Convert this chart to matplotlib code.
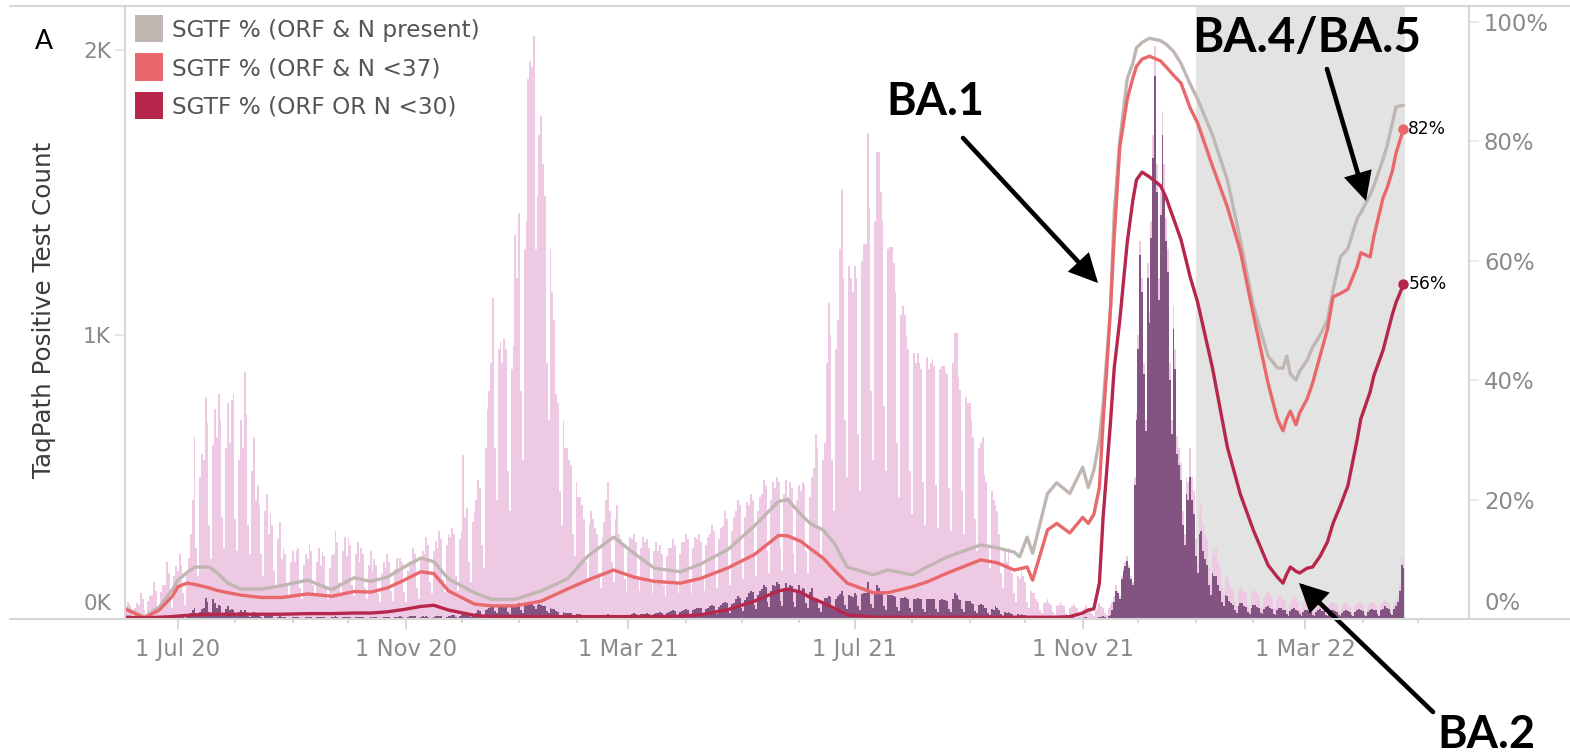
import matplotlib
matplotlib.use("Agg")
import matplotlib.pyplot as plt
import matplotlib.dates as mdates
from matplotlib.patches import Rectangle, FancyArrowPatch
from matplotlib.lines import Line2D
from matplotlib.ticker import FuncFormatter
import pandas as pd

# ---------------- data ----------------
bar_start = "2020-06-03"
# daily TaqPath positive test counts (pink bars)
total_tests = [
    35, 60, 48, 20, 12, 40, 55,
    50, 90, 70, 30, 18, 62, 80,
    85, 130, 100, 45, 25, 95, 118,
    120, 200, 160, 70, 40, 150, 185,
    170, 230, 190, 90, 50, 160, 215,
    300, 420, 640, 250, 150, 500, 580,
    560, 780, 690, 330, 210, 610, 740,
    640, 790, 700, 360, 250, 600, 760,
    620, 770, 790, 350, 240, 560, 700,
    600, 870, 720, 330, 230, 520, 640,
    420, 470, 400, 230, 150, 380, 440,
    300, 370, 330, 170, 110, 280, 340,
    210, 250, 230, 120, 80, 200, 240,
    200, 240, 250, 110, 70, 190, 230,
    210, 265, 240, 120, 80, 200, 250,
    190, 240, 220, 110, 70, 180, 225,
    230, 310, 270, 130, 85, 240, 290,
    220, 285, 260, 120, 80, 230, 270,
    200, 250, 230, 110, 70, 190, 240,
    170, 210, 190, 90, 60, 160, 200,
    180, 230, 200, 100, 65, 175, 215,
    175, 215, 200, 95, 60, 170, 205,
    200, 250, 230, 110, 70, 210, 240,
    230, 290, 260, 130, 90, 240, 275,
    250, 310, 280, 140, 95, 260, 300,
    290, 320, 300, 150, 100, 280, 310,
    577, 360, 390, 200, 130, 340, 380,
    420, 490, 460, 260, 180, 600, 738,
    800, 900, 1128, 600, 420, 950, 975,
    900, 985, 950, 520, 380, 880, 960,
    1350, 1200, 1427, 800, 560, 1300, 1400,
    1900, 1960, 1940, 2050, 1300, 1487, 1700,
    1768, 1600, 1487, 900, 700, 1300, 1150,
    1050, 790, 760, 450, 330, 700, 600,
    600, 560, 540, 300, 220, 480, 430,
    430, 400, 350, 200, 140, 330, 380,
    350, 320, 300, 160, 110, 290, 340,
    420, 480, 380, 200, 130, 350, 400,
    300, 280, 260, 140, 90, 240, 290,
    280, 300, 270, 150, 100, 250, 290,
    270, 280, 250, 130, 90, 240, 270,
    240, 260, 230, 120, 80, 220, 250,
    250, 280, 260, 130, 90, 230, 270,
    270, 300, 280, 140, 90, 250, 290,
    280, 300, 270, 150, 100, 260, 290,
    300, 330, 310, 160, 110, 280, 320,
    327, 380, 350, 180, 120, 310, 360,
    380, 420, 400, 200, 140, 360, 410,
    400, 440, 420, 220, 150, 380, 430,
    440, 490, 470, 240, 160, 420, 480,
    460, 500, 480, 250, 170, 440, 490,
    430, 480, 460, 230, 160, 420, 470,
    450, 480, 470, 240, 160, 430, 500,
    530, 650, 600, 320, 220, 560, 620,
    900, 1110, 1000, 560, 380, 950, 1050,
    1300, 1510, 1200, 700, 500, 1240, 1200,
    1150, 1240, 1200, 650, 450, 1260, 1320,
    1320, 1710, 1450, 800, 560, 1400, 1640,
    1640, 1500, 1400, 750, 520, 1300, 1308,
    1308, 1250, 1150, 620, 430, 1069, 1100,
    1069, 1000, 950, 520, 370, 935, 900,
    935, 900, 880, 480, 330, 920, 880,
    900, 915, 890, 470, 320, 880, 890,
    890, 870, 860, 460, 310, 900, 1005,
    1005, 850, 805, 450, 300, 780, 760,
    760, 700, 640, 350, 240, 600, 620,
    640, 506, 480, 260, 180, 450, 420,
    400, 380, 300, 160, 110, 250, 200,
    250, 180, 160, 90, 60, 150, 140,
    180, 150, 130, 60, 40, 100, 90,
    90, 70, 60, 30, 20, 55, 60,
    70, 55, 50, 25, 15, 45, 50,
    60, 50, 45, 20, 15, 40, 45,
    55, 45, 40, 20, 12, 35, 40,
    50, 40, 35, 18, 12, 30, 40,
    55, 45, 40, 20, 15, 40, 50,
    60, 80, 120, 100, 80, 150, 180,
    200, 220, 190, 150, 130, 500, 725,
    1000, 1330, 1200, 900, 700, 1250, 1080,
    1400, 1700, 2015, 1600, 1200, 1500, 1785,
    1600, 1410, 1300, 900, 700, 1100, 950,
    645, 600, 550, 380, 300, 500, 480,
    600, 500, 450, 280, 200, 385, 400,
    330, 300, 280, 180, 130, 250, 230,
    250, 200, 180, 110, 80, 160, 150,
    130, 110, 100, 60, 45, 95, 110,
    110, 95, 90, 50, 40, 85, 100,
    100, 90, 80, 45, 35, 75, 90,
    100, 85, 75, 40, 30, 70, 85,
    80, 70, 65, 35, 25, 60, 75,
    80, 70, 60, 35, 25, 55, 70,
    70, 60, 55, 30, 20, 50, 65,
    70, 60, 55, 30, 20, 50, 60,
    60, 55, 50, 28, 18, 45, 55,
    60, 50, 45, 25, 18, 45, 55,
    60, 55, 50, 25, 18, 45, 55,
    60, 55, 50, 28, 20, 50, 60,
    70, 60, 55, 30, 22, 55, 65,
    80, 120, 218, 200,
]
# daily SGTF positive counts (purple bars)
sgtf_tests = [
    3, 5, 4, 2, 1, 3, 4,
    4, 5, 4, 2, 1, 3, 5,
    5, 8, 6, 3, 2, 5, 7,
    8, 10, 9, 4, 3, 7, 9,
    10, 15, 12, 6, 4, 10, 14,
    20, 30, 40, 15, 10, 25, 35,
    40, 75, 60, 25, 15, 70, 55,
    40, 50, 45, 20, 12, 35, 45,
    30, 35, 30, 15, 10, 25, 30,
    25, 30, 25, 12, 8, 20, 25,
    15, 18, 15, 8, 5, 12, 15,
    10, 12, 10, 5, 3, 8, 10,
    6, 8, 7, 3, 2, 5, 7,
    6, 7, 8, 3, 2, 5, 7,
    7, 8, 7, 4, 2, 6, 8,
    6, 7, 6, 3, 2, 5, 7,
    7, 9, 8, 4, 3, 7, 8,
    7, 8, 8, 4, 2, 7, 8,
    6, 7, 7, 3, 2, 5, 7,
    5, 6, 6, 3, 2, 5, 6,
    6, 8, 7, 3, 2, 6, 7,
    7, 9, 8, 4, 3, 8, 10,
    9, 10, 9, 5, 3, 8, 10,
    8, 9, 8, 4, 3, 7, 9,
    9, 10, 9, 5, 3, 8, 10,
    12, 15, 14, 7, 5, 12, 14,
    20, 18, 20, 10, 7, 17, 19,
    22, 30, 28, 14, 10, 30, 35,
    40, 45, 50, 28, 20, 45, 48,
    45, 50, 48, 26, 18, 44, 48,
    50, 48, 55, 30, 22, 52, 56,
    56, 58, 60, 45, 35, 50, 52,
    50, 46, 44, 28, 20, 38, 36,
    34, 28, 26, 15, 10, 24, 22,
    22, 20, 20, 11, 8, 18, 16,
    16, 15, 13, 7, 5, 12, 14,
    13, 12, 11, 6, 4, 11, 13,
    15, 18, 14, 8, 5, 13, 15,
    14, 13, 12, 7, 5, 11, 14,
    18, 20, 17, 9, 6, 16, 19,
    19, 20, 18, 10, 7, 17, 20,
    22, 25, 21, 12, 8, 20, 24,
    27, 30, 28, 15, 10, 26, 29,
    32, 35, 33, 18, 12, 30, 34,
    37, 40, 38, 20, 14, 35, 39,
    45, 50, 47, 25, 17, 43, 49,
    55, 60, 57, 30, 20, 52, 58,
    70, 80, 75, 40, 28, 68, 78,
    90, 100, 95, 50, 35, 85, 98,
    105, 120, 112, 60, 42, 100, 118,
    115, 130, 122, 65, 45, 110, 128,
    108, 120, 115, 60, 42, 102, 118,
    98, 110, 105, 55, 38, 95, 108,
    66, 75, 71, 38, 26, 64, 74,
    74, 82, 79, 43, 30, 71, 81,
    88, 98, 82, 49, 34, 84, 82,
    79, 90, 86, 45, 32, 88, 92,
    90, 130, 96, 52, 38, 94, 120,
    110, 92, 88, 46, 33, 84, 86,
    84, 82, 76, 41, 28, 74, 75,
    79, 75, 72, 38, 26, 71, 69,
    74, 71, 69, 36, 25, 72, 69,
    70, 72, 70, 36, 25, 68, 69,
    68, 66, 64, 34, 24, 69, 90,
    85, 69, 66, 34, 24, 63, 62,
    64, 58, 54, 28, 20, 50, 51,
    50, 40, 38, 21, 14, 34, 33,
    44, 40, 32, 17, 12, 26, 22,
    26, 20, 18, 10, 7, 16, 15,
    18, 15, 13, 7, 5, 11, 10,
    9, 8, 7, 4, 3, 6, 7,
    7, 6, 5, 3, 2, 5, 6,
    6, 6, 5, 3, 2, 5, 6,
    6, 5, 5, 3, 2, 4, 6,
    6, 5, 4, 2, 2, 4, 5,
    8, 8, 10, 6, 5, 12, 15,
    30, 60, 100, 90, 70, 140, 170,
    185, 205, 180, 140, 120, 470, 700,
    950, 1280, 1150, 860, 660, 1200, 1040,
    1340, 1620, 1910, 1500, 1120, 1420, 1700,
    1500, 1330, 1220, 840, 650, 1020, 880,
    580, 540, 490, 330, 260, 440, 420,
    500, 420, 370, 220, 160, 300, 310,
    240, 210, 190, 120, 85, 160, 150,
    150, 120, 100, 60, 45, 85, 80,
    65, 55, 50, 30, 22, 45, 55,
    55, 45, 42, 24, 18, 40, 48,
    48, 42, 38, 21, 16, 35, 42,
    46, 40, 35, 19, 14, 33, 40,
    38, 33, 30, 17, 12, 28, 35,
    38, 33, 28, 16, 12, 26, 33,
    33, 28, 26, 14, 10, 24, 30,
    34, 29, 27, 15, 10, 25, 30,
    30, 27, 25, 14, 9, 22, 28,
    32, 27, 24, 13, 10, 24, 30,
    34, 31, 28, 14, 10, 26, 32,
    36, 33, 30, 17, 12, 30, 36,
    45, 40, 36, 20, 15, 36, 44,
    60, 100, 190, 180,
]

line_dates = [
    "2020-06-03", "2020-06-13", "2020-06-21", "2020-06-28", "2020-07-01", "2020-07-06",
    "2020-07-10", "2020-07-18", "2020-07-22", "2020-07-28", "2020-08-04", "2020-08-15",
    "2020-08-26", "2020-09-09", "2020-09-22", "2020-10-04", "2020-10-13", "2020-10-22",
    "2020-10-31", "2020-11-09", "2020-11-16", "2020-11-24", "2020-12-08", "2020-12-17",
    "2020-12-30", "2021-01-13", "2021-01-27", "2021-02-07", "2021-02-21", "2021-03-04",
    "2021-03-15", "2021-03-29", "2021-04-09", "2021-04-24", "2021-05-08", "2021-05-21",
    "2021-05-26", "2021-06-02", "2021-06-07", "2021-06-14", "2021-06-20", "2021-06-27",
    "2021-07-11", "2021-07-19", "2021-08-01", "2021-08-09", "2021-08-20", "2021-09-07",
    "2021-09-16", "2021-09-25", "2021-09-28", "2021-10-02", "2021-10-05", "2021-10-13",
    "2021-10-18", "2021-10-25", "2021-11-01", "2021-11-04", "2021-11-07", "2021-11-10",
    "2021-11-12", "2021-11-14", "2021-11-16", "2021-11-18", "2021-11-21", "2021-11-25",
    "2021-11-28", "2021-11-30", "2021-12-03", "2021-12-07", "2021-12-13", "2021-12-16",
    "2021-12-20", "2021-12-24", "2021-12-29", "2022-01-02", "2022-01-10", "2022-01-18",
    "2022-01-25", "2022-02-01", "2022-02-09", "2022-02-14", "2022-02-17", "2022-02-19",
    "2022-02-21", "2022-02-24", "2022-02-26", "2022-03-02", "2022-03-05", "2022-03-09",
    "2022-03-13", "2022-03-16", "2022-03-20", "2022-03-24", "2022-03-29", "2022-03-31",
    "2022-04-05", "2022-04-07", "2022-04-12", "2022-04-14", "2022-04-17", "2022-04-19",
    "2022-04-23",
]
pct_orf_n_present = [
    1.8, 0.3, 2.0, 4.9, 6.5, 7.8, 8.7, 8.7, 7.8, 6.0, 5.0, 5.0,
    5.6, 6.5, 4.9, 6.9, 6.3, 7.0, 8.7, 10.2, 9.6, 6.7, 4.4, 3.3,
    3.3, 4.7, 6.7, 10.5, 13.7, 11.0, 8.5, 7.9, 9.2, 11.7, 15.6, 19.7,
    20.0, 17.5, 16.0, 14.9, 12.7, 8.7, 7.4, 8.2, 7.4, 8.7, 10.4, 12.4,
    11.9, 11.2, 10.4, 13.7, 11.0, 21.0, 22.8, 21.0, 25.4, 22.0, 24.9, 30.0,
    36.0, 44.0, 52.0, 68.0, 80.0, 90.4, 93.0, 95.6, 96.5, 97.2, 96.8, 96.2,
    95.0, 93.0, 89.5, 87.0, 81.0, 73.5, 63.5, 52.5, 44.0, 42.0, 42.0, 44.0,
    41.0, 40.0, 41.5, 43.3, 45.5, 47.5, 50.0, 55.0, 60.6, 62.0, 67.0, 68.0,
    71.0, 72.5, 77.0, 79.0, 83.0, 85.7, 86.0,
]
pct_orf_n_37 = [
    1.6, 0.2, 1.5, 3.8, 5.4, 6.0, 5.8, 5.2, 4.8, 4.4, 4.0, 3.6,
    3.6, 4.2, 3.8, 4.6, 4.5, 5.2, 6.5, 7.9, 7.6, 4.7, 2.5, 2.2,
    2.2, 3.0, 5.0, 6.5, 8.2, 7.0, 6.3, 6.0, 6.8, 8.6, 10.8, 14.0,
    13.9, 13.0, 11.8, 10.2, 8.2, 6.0, 4.4, 4.4, 5.4, 6.2, 7.7, 9.9,
    9.4, 8.2, 8.4, 8.7, 6.5, 14.9, 16.0, 14.4, 17.0, 16.0, 17.5, 22.0,
    33.0, 42.0, 52.0, 64.0, 79.0, 87.0, 90.5, 92.5, 93.7, 94.2, 93.4, 92.4,
    91.0, 89.7, 85.5, 83.0, 75.8, 69.0, 61.6, 51.0, 39.4, 33.5, 31.5, 33.5,
    34.8, 32.5, 34.5, 36.8, 39.5, 44.0, 48.5, 53.9, 54.5, 55.2, 59.0, 61.3,
    60.6, 64.0, 70.5, 72.0, 75.0, 78.0, 82.0,
]
pct_orf_or_n_30 = [
    0.3, 0.2, 0.3, 0.4, 0.5, 0.6, 0.7, 0.8, 0.8, 0.8, 0.8, 0.8,
    0.8, 0.9, 0.9, 1.0, 1.0, 1.2, 1.6, 2.1, 2.3, 1.5, 0.6, 0.4,
    0.4, 0.4, 0.4, 0.4, 0.4, 0.4, 0.4, 0.5, 0.7, 1.6, 3.0, 4.7,
    5.0, 4.5, 3.6, 2.7, 1.8, 0.7, 0.3, 0.3, 0.3, 0.3, 0.3, 0.3,
    0.3, 0.3, 0.3, 0.3, 0.3, 0.3, 0.3, 0.4, 1.0, 1.5, 1.7, 6.0,
    17.0, 25.0, 33.0, 42.0, 50.0, 63.0, 70.0, 73.5, 74.8, 74.0, 72.5, 70.5,
    67.0, 63.5, 57.2, 53.0, 42.0, 28.8, 20.9, 14.9, 9.0, 7.0, 6.0, 7.5,
    8.7, 8.0, 7.7, 8.5, 8.7, 10.5, 12.9, 16.0, 19.0, 22.3, 30.0, 33.5,
    38.0, 40.7, 45.0, 47.4, 51.0, 53.0, 56.0,
]

legend_labels = ["SGTF % (ORF & N present)", "SGTF % (ORF & N <37)", "SGTF % (ORF OR N <30)"]
left_ticks = [0, 1000, 2000]
left_tick_labels = ["0K", "1K", "2K"]
right_ticks = [0, 20, 40, 60, 80, 100]
right_tick_labels = ["0%", "20%", "40%", "60%", "80%", "100%"]
shade_start, shade_end = "2022-01-01", "2022-04-24"
x_start, x_end = "2020-06-02 12:00", "2022-05-28 08:00"
annotations = ["BA.1", "BA.4/BA.5", "BA.2"]

# ---------------- style ----------------
PINK = "#EEC9E4"
PURPLE = "#703E71"
C_GREY = "#C0B6B2"
C_SALMON = "#E8686B"
C_CRIMSON = "#B7274C"
SHADE = "#E3E3E3"
FRAME = "#D6D6D6"
TICKC = "#D0D0D0"
LABC = "#8A8A8A"
TAB = "DejaVu Sans"

W, H = 1570, 754
fig = plt.figure(figsize=(W / 100, H / 100), dpi=100)
renderer = fig.canvas.get_renderer()


def fx(x):
    return x / W


def fy(y):
    return 1 - y / H


def PT(px):
    return px * 72 / 100


def fit_size(s, target, **kw):
    t = fig.text(0, 0, s, fontsize=20, **kw)
    w = t.get_window_extent(renderer).width
    t.remove()
    return 20 * target / w


tick_fs = fit_size("1 Nov 20", 102, family=TAB)
right_fs = fit_size("100%", 65, family=TAB)
left_fs = fit_size("2K", 28, family=TAB)
legend_fs = fit_size(legend_labels[0], 308, family=TAB)
ylab_fs = fit_size("TaqPath Positive Test Count", 336, family=TAB)
pct_fs = fit_size("82%", 38, family=TAB)
a_fs = fit_size("A", 18, family="Lato")

ax = fig.add_axes([fx(125), fy(619), fx(1469) - fx(125), fy(6) - fy(619)])
ax2 = ax.twinx()

# shaded BA.2 period
ax.axvspan(pd.Timestamp(shade_start), pd.Timestamp(shade_end), color=SHADE, lw=0, zorder=1)

# bars
d_total = pd.date_range(bar_start, periods=len(total_tests), freq="D")
d_sgtf = pd.date_range(bar_start, periods=len(sgtf_tests), freq="D")
ax.bar(d_total, total_tests, width=1.0, color=PINK, linewidth=0, zorder=2)
ax.bar(d_sgtf, sgtf_tests, width=1.0, color=PURPLE, alpha=0.85, linewidth=0, zorder=3)

ax.set_xlim(pd.Timestamp(x_start), pd.Timestamp(x_end))
ax.set_ylim(0, 2155)
ax2.set_ylim(0, 102.6)

# lines
ld = pd.to_datetime(line_dates)
for vals, col in [(pct_orf_n_present, C_GREY), (pct_orf_n_37, C_SALMON), (pct_orf_or_n_30, C_CRIMSON)]:
    ax2.plot(ld, vals, color=col, lw=2.4, solid_joinstyle="round", solid_capstyle="round")
for vals, col in [(pct_orf_n_37, C_SALMON), (pct_orf_or_n_30, C_CRIMSON)]:
    ax2.plot(ld[-1:], vals[-1:], "o", color=col, ms=6.5, mec=col)
    ax2.annotate(f"{vals[-1]:.0f}%", (ld[-1], vals[-1]), xytext=(3.5, 0), textcoords="offset points",
                 ha="left", va="center", fontsize=pct_fs, family=TAB, color="black")

for a in (ax, ax2):
    for sp in a.spines.values():
        sp.set_visible(False)

# x axis
ax.xaxis.set_major_locator(mdates.MonthLocator(bymonth=[3, 7, 11]))
ax.xaxis.set_minor_locator(mdates.MonthLocator())
ax.xaxis.set_major_formatter(FuncFormatter(
    lambda v, p: f"{mdates.num2date(v).day} {mdates.num2date(v):%b %y}"))
ax.tick_params(axis="x", which="major", length=PT(10), width=1.2, color=TICKC,
               pad=PT(9), labelsize=tick_fs, labelcolor=LABC)
ax.tick_params(axis="x", which="minor", length=PT(4), width=1.2, color=TICKC)
for lab in ax.get_xticklabels():
    lab.set_family(TAB)

# left y axis (0K drawn separately, raised as in Tableau)
ax.set_yticks(left_ticks)
ax.set_yticklabels([""] + left_tick_labels[1:], family=TAB)
ax.tick_params(axis="y", length=PT(10), width=1.2, color="#E2E2E2", pad=PT(4),
               labelsize=left_fs, labelcolor=LABC)
fig.text(fx(111), fy(604), left_tick_labels[0], ha="right", va="center",
         fontsize=left_fs, family=TAB, color=LABC)

# right y axis
ax2.set_yticks(right_ticks)
ax2.set_yticklabels([""] + right_tick_labels[1:], family=TAB)
ax2.tick_params(axis="y", length=PT(10), width=1.2, color="#E6E6E6", pad=PT(5),
                labelsize=right_fs, labelcolor=LABC)
fig.text(fx(1485), fy(603), right_tick_labels[0], ha="left", va="center",
         fontsize=right_fs, family=TAB, color=LABC)

# frame lines (Tableau panes)
for xs, ys in [((10, W), (6, 6)), ((10, W), (619, 619)), ((125, 125), (6, 619)), ((1469, 1469), (6, 619))]:
    fig.add_artist(Line2D([fx(xs[0]), fx(xs[1])], [fy(ys[0]), fy(ys[1])], color=FRAME, lw=1.5,
                          transform=fig.transFigure))

# axis title and panel letter
fig.text(fx(44), fy(310), "TaqPath Positive Test Count", rotation=90, ha="center", va="center",
         fontsize=ylab_fs, family=TAB, color="#3C3C3C")
fig.text(fx(44), fy(49), "A", ha="center", va="baseline", fontsize=a_fs, family="Lato", color="black")

# legend
for i, (lab, col) in enumerate(zip(legend_labels, [C_GREY, C_SALMON, C_CRIMSON])):
    yc = 28.5 + 38.5 * i
    fig.add_artist(Rectangle((fx(135), fy(yc + 13.5)), fx(28), fy(0) - fy(27), color=col, lw=0,
                             transform=fig.transFigure))
    fig.text(fx(172), fy(yc + 2), lab, ha="left", va="center", fontsize=legend_fs, family=TAB,
             color="#555555")

# variant annotations
ann_pos = [(935, 115, 98), (1307, 52, 229), (1486, 748, 98)]
for txt, (cx, base, wdt) in zip(annotations, ann_pos):
    fs = fit_size(txt, wdt, family="Lato", weight="bold")
    fig.text(fx(cx), fy(base), txt, ha="center", va="baseline", fontsize=fs, family="Lato",
             weight="bold", color="black")

arrows = [((963, 138), (1098, 283)), ((1327, 69), (1366, 201)), ((1433, 712), (1299, 583))]
for (x0, y0), (x1, y1) in arrows:
    fig.add_artist(FancyArrowPatch((fx(x0), fy(y0)), (fx(x1), fy(y1)), transform=fig.transFigure,
                                   arrowstyle="-|>,head_length=0.7,head_width=0.35", mutation_scale=22,
                                   lw=3.3, color="black", shrinkA=0, shrinkB=0, joinstyle="miter"))

fig.savefig("out.png", dpi=100)
